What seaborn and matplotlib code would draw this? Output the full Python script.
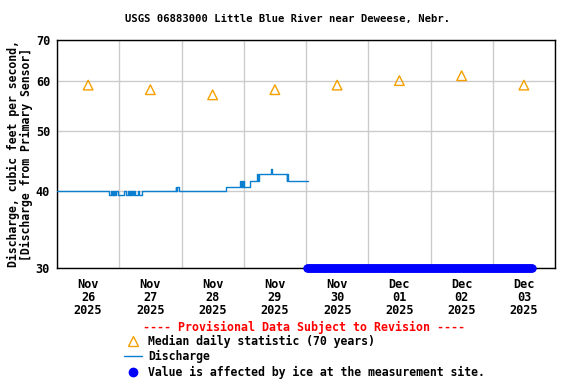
import pandas as pd
import numpy as np
import matplotlib.pyplot as plt
import seaborn as sns
from matplotlib.lines import Line2D
from matplotlib.ticker import NullLocator

# =========================
# DATA
# =========================
median_days = ["2025-11-26 12:00", "2025-11-27 12:00", "2025-11-28 12:00",
               "2025-11-29 12:00", "2025-11-30 12:00", "2025-12-01 12:00",
               "2025-12-02 12:00", "2025-12-03 12:00"]
median_cfs = [59.2, 58.2, 57.1, 58.2, 59.2, 60.2, 61.3, 59.2]

# change points of the 15-minute discharge record (step series)
q_times = ["2025-11-26 00:00", "2025-11-26 20:00", "2025-11-26 20:45",
           "2025-11-26 21:15", "2025-11-26 21:30", "2025-11-26 21:45",
           "2025-11-26 22:00", "2025-11-26 22:15", "2025-11-26 22:45",
           "2025-11-26 23:30", "2025-11-27 01:45", "2025-11-27 02:30",
           "2025-11-27 03:15", "2025-11-27 03:45", "2025-11-27 04:00",
           "2025-11-27 04:15", "2025-11-27 04:30", "2025-11-27 04:45",
           "2025-11-27 05:00", "2025-11-27 05:15", "2025-11-27 05:45",
           "2025-11-27 06:00", "2025-11-27 07:15", "2025-11-27 07:30",
           "2025-11-27 08:45", "2025-11-27 21:45", "2025-11-27 22:00",
           "2025-11-27 22:15", "2025-11-27 23:00", "2025-11-28 17:00",
           "2025-11-28 22:30", "2025-11-28 22:45", "2025-11-28 23:15",
           "2025-11-28 23:30", "2025-11-28 23:45", "2025-11-29 00:00",
           "2025-11-29 02:15", "2025-11-29 05:15", "2025-11-29 05:30",
           "2025-11-29 05:45", "2025-11-29 10:30", "2025-11-29 10:45",
           "2025-11-29 16:30", "2025-11-29 16:45", "2025-11-29 17:00",
           "2025-11-30 00:45"]
q_cfs = [40.0, 39.3, 40.0,
         39.3, 40.0, 39.3,
         40.0, 39.3, 40.0,
         39.3, 40.0, 39.3,
         40.0, 39.3, 40.0,
         39.3, 40.0, 39.3,
         40.0, 39.3, 40.0,
         39.3, 40.0, 39.3,
         40.0, 40.6, 40.0,
         40.6, 40.0, 40.6,
         41.5, 40.6, 41.5,
         40.6, 41.5, 40.6,
         41.5, 42.5, 41.5,
         42.5, 43.3, 42.5,
         41.5, 42.5, 41.5,
         41.5]

ice_start = "2025-11-30 00:15"
ice_end = "2025-12-03 15:15"

x_start, x_end = "2025-11-26", "2025-12-04"
y_ticks = [30, 40, 50, 60, 70]

# =========================
# PLOT
# =========================
sns.set_theme(style="white")
plt.rcParams['font.family'] = ['DejaVu Sans Mono']
plt.rcParams['font.weight'] = 'bold'
for k in ["text.color", "axes.labelcolor", "xtick.color", "ytick.color"]:
    plt.rcParams[k] = "black"

FS = 8.3
fig = plt.figure(figsize=(5.76, 3.84), dpi=100)
ax = fig.add_axes([57 / 576, 1 - 268 / 384, 498 / 576, 228 / 384])

med = pd.DataFrame({"t": pd.to_datetime(median_days), "v": median_cfs})
q = pd.DataFrame({"t": pd.to_datetime(q_times), "v": q_cfs})
ice_t = pd.date_range(ice_start, ice_end, freq="15min")
ice = pd.DataFrame({"t": ice_t, "v": [30] * len(ice_t)})

sns.lineplot(data=q, x="t", y="v", ax=ax, color="#0a7fd0", lw=1.0,
             drawstyle="steps-post", zorder=3)
sns.scatterplot(data=med, x="t", y="v", ax=ax, marker="^", s=48,
                facecolor="none", edgecolor="#f5a000", linewidth=1.0, zorder=4)
sns.scatterplot(data=ice, x="t", y="v", ax=ax, color="#0000ff", s=34,
                linewidth=0, zorder=5, clip_on=False)

ax.set_yscale("log")
ax.set_ylim(30, 70)
ax.set_yticks(y_ticks)
ax.set_yticklabels([str(v) for v in y_ticks], fontsize=8.6, weight="bold")
ax.yaxis.set_minor_locator(NullLocator())

ax.set_xlim(pd.Timestamp(x_start), pd.Timestamp(x_end))
midnights = pd.date_range(x_start, x_end, freq="D")
noons = midnights[:-1] + pd.Timedelta(hours=12)
ax.set_xticks(midnights)
ax.set_xticklabels([""] * len(midnights))
ax.set_xticks(noons, minor=True)
ax.set_xticklabels([f"{d:%b}\n{d:%d}\n{d:%Y}" for d in noons], minor=True,
                   linespacing=1.0, fontsize=8.6, weight="bold")
ax.tick_params(axis="x", which="both", length=0, pad=7)
ax.tick_params(axis="y", length=0, pad=5)

ax.grid(True, which="major", color="#cccccc", lw=1.0)
ax.grid(False, which="minor")
for s in ax.spines.values():
    s.set_color("black")
    s.set_linewidth(1.0)

ax.set_xlabel("")
ax.set_ylabel("Discharge, cubic feet per second,\n[Discharge from Primary Sensor]",
              linespacing=1.0, labelpad=2, fontsize=FS, weight="bold")

fig.text(0.5, 1 - 19 / 384, "USGS 06883000 Little Blue River near Deweese, Nebr.",
         ha="center", va="center", fontsize=7.6, weight="bold")
fig.text(304 / 576, 1 - 327 / 384, "---- Provisional Data Subject to Revision ----",
         ha="center", va="center", color="red", weight="bold", fontsize=8.4)

handles = [
    Line2D([], [], ls="none", marker="^", markersize=7, markerfacecolor="none",
           markeredgecolor="#f5a000", markeredgewidth=1.0),
    Line2D([], [], color="#0a7fd0", lw=1.0),
    Line2D([], [], ls="none", marker="o", markersize=6, color="#0000ff"),
]
labels = ["Median daily statistic (70 years)", "Discharge",
          "Value is affected by ice at the measurement site."]
fig.legend(handles, labels, loc="upper left",
           bbox_to_anchor=(124 / 576, 1 - 335 / 384), frameon=False,
           borderaxespad=0, borderpad=0, handlelength=1.6, handletextpad=0.5,
           labelspacing=0.2, prop={"family": "DejaVu Sans Mono",
                                   "weight": "bold", "size": FS})

fig.savefig("out.png", dpi=100)
